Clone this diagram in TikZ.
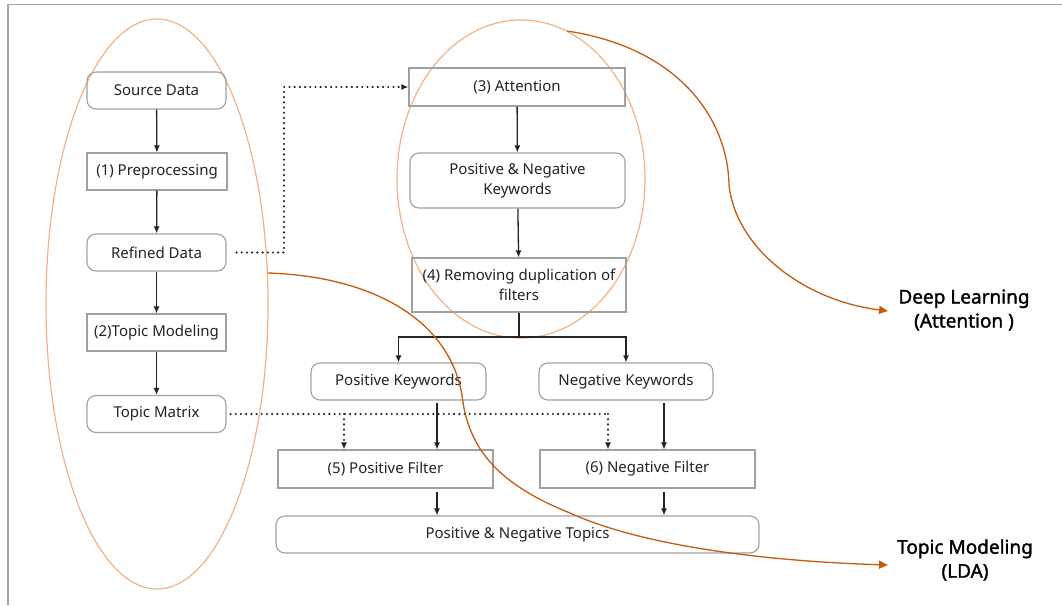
\documentclass[tikz,border=0pt]{standalone}
\usepackage{fontspec}
\setmainfont{Noto Sans}
\newfontfamily\lblfont[FakeBold=1.6]{Noto Sans}
\usetikzlibrary{arrows.meta}
\definecolor{boxline}{RGB}{160,160,160}
\definecolor{txt}{RGB}{35,35,35}
\definecolor{ellc}{RGB}{244,177,131}
\definecolor{curvec}{RGB}{197,90,17}
\definecolor{framec}{RGB}{165,165,165}
\tikzset{
  base/.style={draw=boxline, line width=1.1pt, text=txt, font=\fontsize{15}{20}\selectfont, align=center, inner sep=0pt, anchor=center},
  sqbox/.style={base},
  rbox/.style={base, rounded corners=9pt},
  arr/.style={draw=txt, line width=1.3pt, -{Latex[length=7pt,width=6pt]}},
  dotarr/.style={draw=txt, line width=2.4pt, line cap=round, dash pattern=on 0pt off 5.2pt, -{Latex[length=7pt,width=6pt]}},
  dotline/.style={draw=txt, line width=2.4pt, line cap=round, dash pattern=on 0pt off 5.2pt},
  ell/.style={draw=ellc, line width=1.2pt},
  crv/.style={draw=curvec, line width=1.3pt, -{Triangle[length=9pt,width=8pt]}},
  lbl/.style={font=\lblfont\fontsize{19}{24}\selectfont, text=black, align=center}
}
\begin{document}
\begin{tikzpicture}[x=1pt,y=-1pt]
\useasboundingbox (0,0) rectangle (1062,605);
\draw[framec, line width=1.5pt] (1062,4.5) -- (8,4.5) -- (8,605);

% ellipses
\draw[ell] (157,304) ellipse [x radius=111, y radius=285];
\draw[ell] (521,179) ellipse [x radius=124, y radius=159];

% left column
\node[rbox, minimum width=139pt, minimum height=37pt] (sd) at (156.5,90.5) {Source Data};
\node[sqbox, minimum width=140pt, minimum height=37pt] (pp) at (157,171.5) {(1) Preprocessing};
\node[rbox, minimum width=139pt, minimum height=37pt] (rd) at (156.5,252.5) {Refined Data};
\node[sqbox, minimum width=139pt, minimum height=37pt] (tmod) at (156.5,332.5) {(2)Topic Modeling};
\node[rbox, minimum width=139pt, minimum height=37pt] (tmx) at (156.5,414) {Topic Matrix};

% middle column
\node[sqbox, minimum width=216pt, minimum height=38pt] (att) at (517,87) {(3) Attention};
\node[rbox, minimum width=215pt, minimum height=55pt] (pnk) at (517.5,180.5) {Positive \& Negative\\Keywords};
\node[sqbox, minimum width=214pt, minimum height=54pt] (rem) at (519,285) {(4) Removing duplication of\\filters};
\node[rbox, minimum width=175pt, minimum height=37pt] (pk) at (398.5,381.5) {Positive Keywords};
\node[rbox, minimum width=174pt, minimum height=37pt] (nk) at (626,381.5) {Negative Keywords};
\node[sqbox, minimum width=215pt, minimum height=38pt] (pf) at (385.5,469) {(5) Positive Filter};
\node[sqbox, minimum width=215pt, minimum height=38pt] (nf) at (647.5,469) {(6) Negative Filter};
\node[rbox, minimum width=483pt, minimum height=37pt] (pnt) at (517.5,534.5) {Positive \& Negative Topics};

% labels
\node[lbl] (dl) at (964,310) {Deep Learning\\(Attention )};
\node[lbl] (lda) at (965,560) {Topic Modeling\\(LDA)};

% solid arrows
\draw[arr] (sd) -- (pp);
\draw[arr] (pp) -- (rd);
\draw[arr] (rd) -- (tmod);
\draw[arr] (tmod) -- (tmx);
\draw[arr] (att) -- (pnk);
\draw[arr] (pnk) -- (rem);
\coordinate (br) at (519,337);
\draw[draw=txt, line width=1.3pt] (rem.south) -- (br);
\draw[arr] (br) -| (pk.north);
\draw[arr] (br) -| (nk.north);
\draw[arr] (pk.south -| 437,0) ++(0,2) -- (pf.north -| 437,0);
\draw[arr] (nk.south -| 664,0) ++(0,2) -- (nf.north -| 664,0);
\draw[arr] (pf.south -| 437,0) ++(0,3) -- (pnt.north -| 437,0);
\draw[arr] (nf.south -| 664,0) ++(0,3) -- (pnt.north -| 664,0);

% dotted connectors
\coordinate (d1) at (284,252.5);
\draw[dotarr] ([xshift=10pt]rd.east) -- (d1) |- (att.west);
\coordinate (d2) at (344,414);
\coordinate (d3) at (608,414);
\draw[dotline] ([xshift=4pt]tmx.east) -- (d3);
\draw[dotarr] (d2) -- (pf.north -| d2);
\draw[dotarr] (d3) -- (nf.north -| d3);

% orange curves
\coordinate (c1s) at (567,31);
\coordinate (c1m) at (729,185);
\coordinate (c1e) at (888,311);
\draw[crv] (c1s) .. controls (680,48) and (728,120) .. (c1m) .. controls (735,245) and (800,300) .. (c1e);
\coordinate (c2s) at (268,273);
\coordinate (c2a) at (462,395);
\coordinate (c2b) at (570,513);
\coordinate (c2e) at (888,565);
\draw[crv] (c2s) .. controls (365,276) and (448,315) .. (c2a) .. controls (468,450) and (500,485) .. (c2b) .. controls (640,545) and (760,561) .. (c2e);
\end{tikzpicture}
\end{document}
